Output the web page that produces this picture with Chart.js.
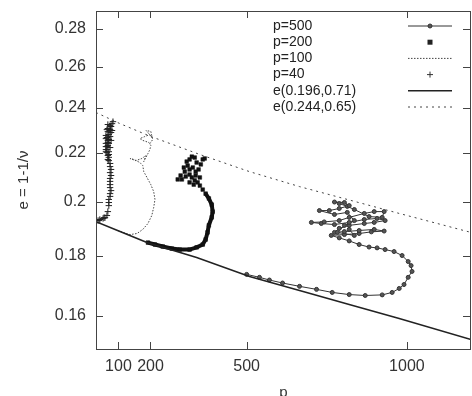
<!DOCTYPE html>
<html lang="en">
<head>
<meta charset="UTF-8">
<title>e = 1-1/ν vs p</title>
<script src="https://cdn.jsdelivr.net/npm/chart.js"></script>
<style>
  html, body { margin: 0; padding: 0; background: #fff; }
</style>
</head>
<body>
<canvas id="myChart" width="472" height="396"></canvas>
<script>
// axis ticks
var xTicks = [100, 200, 500, 1000];
var yTicks = [0.16, 0.18, 0.2, 0.22, 0.24, 0.26, 0.28];

// fitted curves
var fitAP = [30, 105, 189, 344, 509, 665, 820, 976, 1200];
var fitAE = [0.1923, 0.1886, 0.1846, 0.1793, 0.1728, 0.1681, 0.1636, 0.1592, 0.1528];
var fitBP = [30, 105, 198, 354, 509, 665, 820, 976, 1200];
var fitBE = [0.2379, 0.2328, 0.2272, 0.2192, 0.2120, 0.2059, 0.2006, 0.1954, 0.1883];

// p=500 trajectory
var p500P = [500, 540, 571, 612, 665, 718, 767, 820, 870, 923, 954, 976, 991, 1004, 1016, 1013, 1004, 985, 960, 932,
  907, 882, 851, 820, 789, 764, 805, 851, 889, 929, 898, 851, 805, 774, 789, 820, 867, 898, 932, 907,
  867, 820, 774, 733, 702, 742, 789, 820, 867, 898, 929, 923, 882, 836, 814, 789, 774, 805, 820, 789,
  758, 727, 774, 814, 836, 805, 783, 836, 820];
var p500E = [0.1735, 0.1725, 0.1716, 0.1706, 0.1695, 0.1685, 0.1675, 0.1668, 0.1665, 0.1667, 0.1675, 0.1688, 0.1701, 0.1725, 0.1745, 0.1765, 0.1779, 0.1800, 0.1814, 0.1821,
  0.1827, 0.1830, 0.1839, 0.1852, 0.1863, 0.1872, 0.1875, 0.1879, 0.1885, 0.1888, 0.1894, 0.1890, 0.1886, 0.1883, 0.1898, 0.1909, 0.1916, 0.1920, 0.1927, 0.1935,
  0.1931, 0.1920, 0.1912, 0.1916, 0.1920, 0.1922, 0.1927, 0.1939, 0.1954, 0.1961, 0.1961, 0.1939, 0.1942, 0.1969, 0.1981, 0.1992, 0.1998, 0.1996, 0.1984, 0.1973,
  0.1965, 0.1965, 0.1950, 0.1958, 0.1927, 0.1909, 0.1883, 0.1872, 0.1894];

// p=200 trajectory
var p200P = [192, 214, 238, 266, 291, 322, 344, 363, 372, 378, 382, 391, 394, 391, 382, 372, 363, 354, 347, 338,
  329, 341, 322, 310, 298, 285, 294, 307, 322, 332, 316, 304, 313, 322, 329, 338, 344, 350, 341, 354,
  363, 369, 357, 335, 322];
var p200E = [0.1846, 0.1839, 0.1832, 0.1825, 0.1821, 0.1821, 0.1829, 0.1839, 0.1857, 0.1883, 0.1909, 0.1939, 0.1961, 0.1988, 0.2012, 0.2031, 0.2047, 0.2063, 0.2076, 0.2084,
  0.2096, 0.2104, 0.2108, 0.2100, 0.2088, 0.2088, 0.2104, 0.2120, 0.2129, 0.2137, 0.2145, 0.2137, 0.2162, 0.2171, 0.2183, 0.2179, 0.2158, 0.2129, 0.2120, 0.2096,
  0.2171, 0.2175, 0.2150, 0.2067, 0.2076];

// p=100 trajectory
var p100P = [98, 114, 136, 158, 176, 192, 204, 210, 214, 210, 201, 189, 179, 176, 167, 148, 136, 154, 173, 186,
  179, 192, 198, 201, 195, 176, 167, 182, 198, 204, 192, 186, 201, 207, 198];
var p100E = [0.1890, 0.1883, 0.1875, 0.1879, 0.1894, 0.1916, 0.1946, 0.1977, 0.2008, 0.2039, 0.2067, 0.2096, 0.2120, 0.2145, 0.2158, 0.2171, 0.2175, 0.2166, 0.2175, 0.2188,
  0.2162, 0.2196, 0.2213, 0.2231, 0.2244, 0.2253, 0.2261, 0.2270, 0.2279, 0.2266, 0.2288, 0.2297, 0.2293, 0.2257, 0.2239];

// p=40 trajectory
var p40P = [33, 39, 42, 52, 55, 58, 64, 67, 70, 70, 70, 74, 74, 77, 74, 74, 74, 74, 77, 74,
  77, 74, 74, 70, 70, 67, 64, 64, 67, 74, 61, 67, 61, 67, 64, 70, 67, 74, 77, 80,
  74, 70, 64, 61, 70, 67, 61, 77, 83, 74, 67, 61, 74, 67, 80, 70, 64, 77, 70, 61];
var p40E = [0.1927, 0.1927, 0.1931, 0.1935, 0.1938, 0.1938, 0.1946, 0.1961, 0.1984, 0.1996, 0.2008, 0.2020, 0.2031, 0.2043, 0.2055, 0.2067, 0.2080, 0.2092, 0.2104, 0.2116,
  0.2129, 0.2141, 0.2154, 0.2166, 0.2180, 0.2188, 0.2200, 0.2213, 0.2231, 0.2222, 0.2240, 0.2253, 0.2226, 0.2244, 0.2266, 0.2279, 0.2292, 0.2301, 0.2315, 0.2328,
  0.2319, 0.2257, 0.2226, 0.2204, 0.2192, 0.2171, 0.2275, 0.2288, 0.2337, 0.2270, 0.2306, 0.2261, 0.2297, 0.2324, 0.2297, 0.2204, 0.2301, 0.2253, 0.2240, 0.2213];

var legendLabels = ['p=500', 'p=200', 'p=100', 'p=40', 'e(0.196,0.71)', 'e(0.244,0.65)'];

var FONT = "'Liberation Sans', Arial, sans-serif";
var myChart;

function pts(xs, ys) {
    return xs.map(function (x, i) { return { x: x, y: ys[i] }; });
}

// gnuplot style frame, inward ticks and legend
var framePlugin = {
    id: 'frame',
    afterDraw: function (chart) {
        var c = chart.ctx;
        var a = chart.chartArea;
        var sx = chart.scales.x, sy = chart.scales.y;
        c.save();
        c.strokeStyle = '#444';
        c.lineWidth = 1;
        c.strokeRect(Math.round(a.left) + 0.5, Math.round(a.top) + 0.5,
            Math.round(a.right - a.left) - 1, Math.round(a.bottom - a.top));
        c.beginPath();
        xTicks.forEach(function (v) {
            var px = Math.round(sx.getPixelForValue(v)) + 0.5;
            c.moveTo(px, a.bottom); c.lineTo(px, a.bottom - 7);
            c.moveTo(px, a.top); c.lineTo(px, a.top + 7);
        });
        yTicks.forEach(function (v) {
            var py = Math.round(sy.getPixelForValue(v)) + 0.5;
            c.moveTo(a.left, py); c.lineTo(a.left + 7, py);
            c.moveTo(a.right - 1, py); c.lineTo(a.right - 8, py);
        });
        c.stroke();

        // legend
        var tx = 273, s0 = 408, s1 = 452, sm = 430;
        c.font = '14px ' + FONT;
        c.fillStyle = '#222';
        c.textBaseline = 'middle';
        c.textAlign = 'left';
        legendLabels.forEach(function (lab, i) {
            var y = 26 + i * 16.2;
            c.fillText(lab, tx, y);
            c.beginPath();
            c.setLineDash([]);
            c.strokeStyle = '#333';
            c.lineWidth = 1;
            if (i === 0) {
                c.moveTo(s0, y); c.lineTo(s1, y); c.stroke();
                c.beginPath(); c.arc(sm, y, 2, 0, Math.PI * 2); c.fillStyle = '#555'; c.fill(); c.stroke();
                c.fillStyle = '#222';
            } else if (i === 1) {
                c.fillRect(sm - 2.5, y - 2.5, 5, 5);
            } else if (i === 2) {
                c.setLineDash([1.5, 1.5]); c.strokeStyle = '#444';
                c.moveTo(s0, y); c.lineTo(s1, y); c.stroke();
            } else if (i === 3) {
                c.moveTo(sm - 3, y); c.lineTo(sm + 3, y);
                c.moveTo(sm, y - 3); c.lineTo(sm, y + 3); c.stroke();
            } else if (i === 4) {
                c.lineWidth = 1.6; c.strokeStyle = '#222';
                c.moveTo(s0, y); c.lineTo(s1, y); c.stroke();
            } else {
                c.setLineDash([2, 4]); c.strokeStyle = '#444';
                c.moveTo(s0, y); c.lineTo(s1, y); c.stroke();
            }
        });
        c.restore();
    }
};

function noPad(s) {
    s.paddingTop = 0; s.paddingBottom = 0; s.paddingLeft = 0; s.paddingRight = 0;
}

var ctx = document.getElementById('myChart');
myChart = new Chart(ctx, {
    type: 'scatter',
    data: {
        datasets: [{
            label: 'e(0.196,0.71)',
            data: pts(fitAP, fitAE),
            showLine: true,
            borderColor: '#222',
            borderWidth: 1.6,
            pointRadius: 0
        }, {
            label: 'e(0.244,0.65)',
            data: pts(fitBP, fitBE),
            showLine: true,
            borderColor: '#444',
            borderWidth: 1,
            borderDash: [2, 4],
            pointRadius: 0
        }, {
            label: 'p=100',
            data: pts(p100P, p100E),
            showLine: true,
            borderColor: '#444',
            borderWidth: 1,
            borderDash: [1.5, 1.5],
            pointRadius: 0
        }, {
            label: 'p=40',
            data: pts(p40P, p40E),
            showLine: false,
            pointStyle: 'cross',
            pointRadius: 3.2,
            pointBorderWidth: 1,
            pointBorderColor: '#222'
        }, {
            label: 'p=200',
            data: pts(p200P, p200E),
            showLine: true,
            borderColor: '#111',
            borderWidth: 4,
            segment: {
                borderColor: function (s) { return s.p0DataIndex >= 15 ? 'transparent' : undefined; }
            },
            pointStyle: 'rect',
            pointRadius: 2.6,
            pointBackgroundColor: '#111',
            pointBorderColor: '#111',
            pointBorderWidth: 0.5
        }, {
            label: 'p=500',
            data: pts(p500P, p500E),
            showLine: true,
            borderColor: '#333',
            borderWidth: 1,
            pointRadius: 2,
            pointBackgroundColor: '#555',
            pointBorderColor: '#333',
            pointBorderWidth: 1
        }]
    },
    options: {
        responsive: false,
        animation: false,
        devicePixelRatio: 1,
        layout: { autoPadding: false, padding: { top: 11, right: 1, left: 0, bottom: 0 } },
        plugins: {
            legend: { display: false },
            tooltip: { enabled: false }
        },
        scales: {
            x: {
                type: 'linear',
                min: 30,
                max: 1200,
                afterBuildTicks: function (s) { s.ticks = xTicks.map(function (v) { return { value: v }; }); },
                afterFit: function (s) { s.height = 47; noPad(s); },
                grid: { display: false, drawTicks: false },
                border: { display: false },
                ticks: {
                    padding: 8,
                    color: '#333',
                    autoSkip: false,
                    maxRotation: 0,
                    font: { family: FONT, size: 16 },
                    callback: function (v) { return String(v); }
                },
                title: {
                    display: true,
                    text: 'p',
                    color: '#333',
                    font: { family: FONT, size: 15 },
                    padding: { top: 0, bottom: -6 }
                }
            },
            y: {
                type: 'logarithmic',
                min: 0.15,
                max: 0.29,
                afterBuildTicks: function (s) { s.ticks = yTicks.map(function (v) { return { value: v }; }); },
                afterFit: function (s) { s.width = 96; noPad(s); },
                grid: { display: false, drawTicks: false },
                border: { display: false },
                ticks: {
                    padding: 10,
                    color: '#333',
                    autoSkip: false,
                    font: { family: FONT, size: 16 },
                    callback: function (v) { return String(+Number(v).toFixed(2)); }
                },
                title: {
                    display: true,
                    text: 'e = 1-1/ν',
                    color: '#333',
                    font: { family: FONT, size: 15 },
                    padding: { top: 15, bottom: 0 }
                }
            }
        }
    },
    plugins: [framePlugin]
});
</script>
</body>
</html>
